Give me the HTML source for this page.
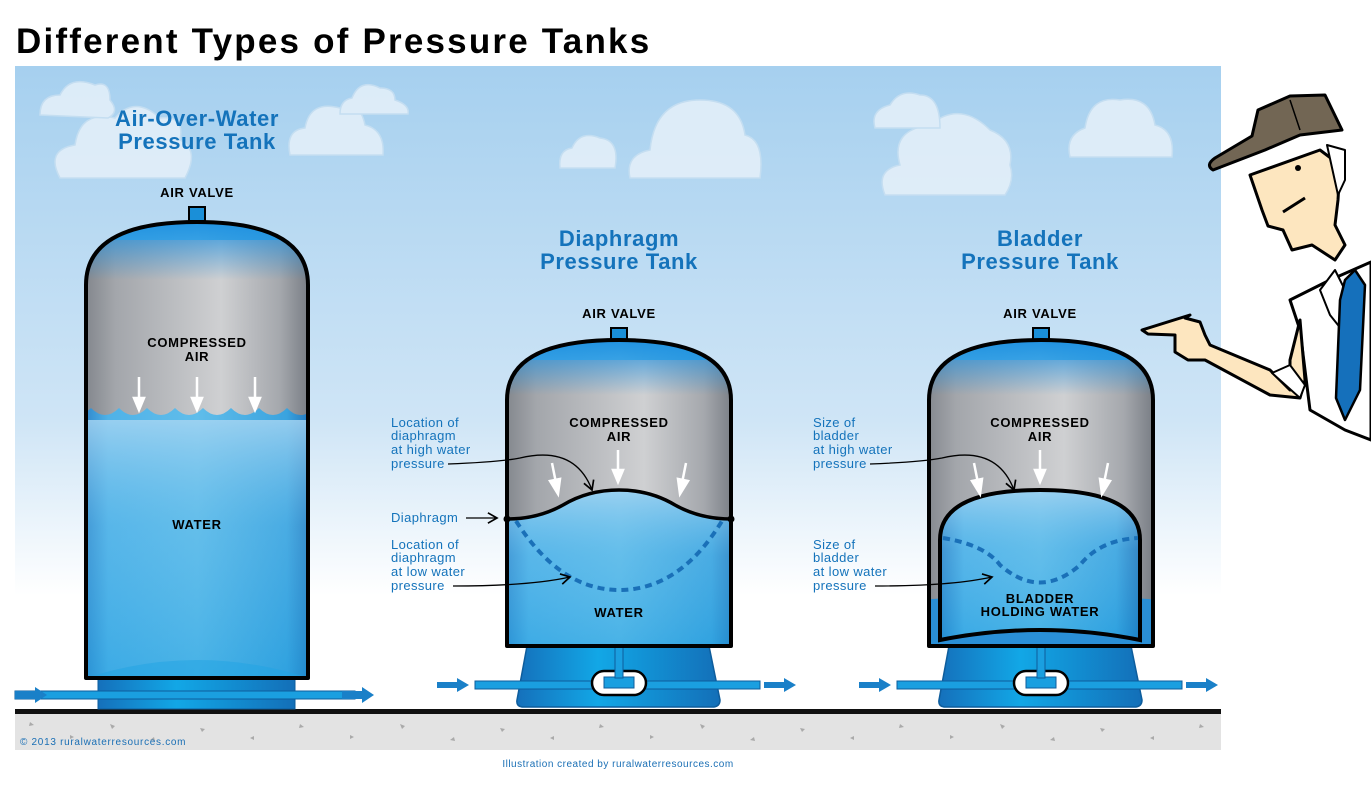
<!DOCTYPE html>
<html><head><meta charset="utf-8"><style>
html,body{margin:0;padding:0;background:#fff;width:1371px;height:794px;overflow:hidden}
svg{display:block}
text{font-family:"Liberation Sans",sans-serif}
.h{font-size:22px;font-weight:bold;fill:#1473bb;letter-spacing:0.6px}
.b{font-size:13px;font-weight:bold;letter-spacing:0.7px}
.l{font-size:13px;fill:#1473bb;letter-spacing:0.4px}
</style></head><body>
<svg width="1371" height="794" viewBox="0 0 1371 794" xmlns="http://www.w3.org/2000/svg">
<defs>
<linearGradient id="sky" x1="0" y1="0" x2="0" y2="1">
<stop offset="0" stop-color="#a6d0ef"/><stop offset="0.55" stop-color="#cfe5f6"/><stop offset="0.82" stop-color="#ffffff"/><stop offset="1" stop-color="#ffffff"/></linearGradient>
<linearGradient id="water" x1="0" y1="0" x2="1" y2="0">
<stop offset="0" stop-color="#2a7fc6"/><stop offset="0.12" stop-color="#4fb2e8"/><stop offset="0.5" stop-color="#60bdea"/><stop offset="0.88" stop-color="#3aa3df"/><stop offset="1" stop-color="#1d6db5"/></linearGradient>
<linearGradient id="waterv" x1="0" y1="0" x2="0" y2="1">
<stop offset="0" stop-color="#a9d6f2" stop-opacity="0.8"/><stop offset="0.4" stop-color="#6cc0ec" stop-opacity="0.3"/><stop offset="1" stop-color="#1a9ee0" stop-opacity="0.4"/></linearGradient>
<linearGradient id="air" x1="0" y1="0" x2="1" y2="0">
<stop offset="0" stop-color="#7d8187"/><stop offset="0.15" stop-color="#a3a6ab"/><stop offset="0.6" stop-color="#cfd0d2"/><stop offset="0.85" stop-color="#a5a8ad"/><stop offset="1" stop-color="#6f747c"/></linearGradient>
<linearGradient id="dome" x1="0" y1="0" x2="0" y2="1">
<stop offset="0" stop-color="#1b8ee0"/><stop offset="1" stop-color="#1b8ee0" stop-opacity="0"/></linearGradient>
<linearGradient id="base" x1="0" y1="0" x2="1" y2="0">
<stop offset="0" stop-color="#1570bb"/><stop offset="0.4" stop-color="#12a7e6"/><stop offset="1" stop-color="#136fb8"/></linearGradient>
<clipPath id="c1"><path d="M86,678 V285 Q86,222 197,222 Q308,222 308,285 V678 Z"/></clipPath>
<clipPath id="c2"><path d="M507,646 V400 Q507,340 619,340 Q731,340 731,400 V646 Z"/></clipPath>
<clipPath id="c3"><path d="M929,646 V400 Q929,340 1041,340 Q1153,340 1153,400 V646 Z"/></clipPath>
<marker id="ah" markerWidth="10" markerHeight="10" refX="8" refY="5" orient="auto"><path d="M1,1 L8,5 L1,9" fill="none" stroke="#000" stroke-width="1.3"/></marker>
</defs>

<text x="16" y="53" font-size="35" font-weight="bold" fill="#000" letter-spacing="2.2">Different Types of Pressure Tanks</text>
<rect x="15" y="66" width="1206" height="646" fill="url(#sky)"/>

<!-- clouds -->
<g fill="#e6f1fa" stroke="#c9e0f2" stroke-width="1.5" opacity="0.85">
<path d="M60,178 Q45,150 75,145 Q80,110 115,118 Q135,95 160,118 Q185,115 180,140 Q200,150 185,178 Z"/>
<path d="M40,115 Q40,95 60,95 Q70,75 95,85 Q110,80 110,100 Q120,112 108,118 Z"/>
<path d="M290,155 Q285,130 305,128 Q310,100 340,108 Q360,100 365,125 Q385,130 383,155 Z"/>
<path d="M340,114 Q340,100 352,98 Q360,78 380,88 Q395,88 395,100 Q410,105 408,114 Z"/>
<path d="M560,168 Q558,150 572,148 Q580,130 600,138 Q620,140 615,168 Z"/>
<path d="M630,178 Q625,155 650,150 Q655,100 700,100 Q740,100 745,135 Q765,140 760,178 Z"/>
<path d="M885,195 Q875,170 900,165 Q890,130 930,125 Q960,100 990,130 Q1015,140 1010,165 Q1015,180 1005,195 Z"/>
<path d="M875,128 Q870,110 890,105 Q900,88 920,95 Q940,95 940,128 Z"/>
<path d="M1070,157 Q1065,135 1085,128 Q1090,95 1120,100 Q1150,95 1155,125 Q1175,130 1172,157 Z"/>
</g>

<!-- ground -->
<rect x="15" y="713" width="1206" height="37" fill="#e3e3e3"/>
<g fill="#aaa">
<path d="M30,722l4,3l-5,1z M70,735l4,2l-4,2z M110,724l5,2l-3,3z M150,740l4,-3l1,4z M200,728l5,1l-3,3z M250,738l4,-2l0,4z M300,724l4,3l-5,1z M350,735l4,2l-4,2z M400,724l5,2l-3,3z M450,740l4,-3l1,4z M500,728l5,1l-3,3z M550,738l4,-2l0,4z M600,724l4,3l-5,1z M650,735l4,2l-4,2z M700,724l5,2l-3,3z M750,740l4,-3l1,4z M800,728l5,1l-3,3z M850,738l4,-2l0,4z M900,724l4,3l-5,1z M950,735l4,2l-4,2z M1000,724l5,2l-3,3z M1050,740l4,-3l1,4z M1100,728l5,1l-3,3z M1150,738l4,-2l0,4z M1200,724l4,3l-5,1z"/>
</g>
<rect x="15" y="709" width="1206" height="5" fill="#111"/>
<text x="20" y="745" font-size="10" fill="#1a6fb5" letter-spacing="0.7">© 2013 ruralwaterresources.com</text>
<text x="618" y="767" font-size="10" fill="#1a6fb5" text-anchor="middle" letter-spacing="0.5">Illustration created by ruralwaterresources.com</text>

<!-- TANK 1 -->
<text x="197" y="126" class="h" text-anchor="middle">Air-Over-Water</text>
<text x="197" y="149" class="h" text-anchor="middle">Pressure Tank</text>
<text x="197" y="197" class="b" text-anchor="middle">AIR VALVE</text>
<rect x="98" y="677" width="197" height="32" fill="url(#base)" stroke="#0e5d9c" stroke-width="1"/>
<rect x="15" y="691" width="340" height="8" fill="#1a9fe0" stroke="#0e5d9c" stroke-width="1"/>
<rect x="189" y="207" width="16" height="14" fill="#1a8fd8" stroke="#000" stroke-width="2"/>
<g clip-path="url(#c1)">
<rect x="80" y="215" width="235" height="470" fill="url(#water)"/>
<rect x="80" y="420" width="235" height="265" fill="url(#waterv)"/>
<path d="M80,240 H315 V408 Q300,422 287,408 Q273,422 259,408 Q245,422 231,408 Q217,422 203,408 Q189,422 175,408 Q161,422 147,408 Q133,422 119,408 Q105,422 91,408 Q84,415 80,410 Z" fill="url(#air)"/>
<rect x="80" y="215" width="235" height="65" fill="url(#dome)"/>
<path d="M80,680 Q197,640 315,680" fill="#1fa4e4" opacity="0.5"/>
</g>
<path d="M86,678 V285 Q86,222 197,222 Q308,222 308,285 V678 Z" fill="none" stroke="#000" stroke-width="4" stroke-linejoin="round"/>
<text x="197" y="347" class="b" text-anchor="middle">COMPRESSED</text>
<text x="197" y="361" class="b" text-anchor="middle">AIR</text>
<text x="197" y="529" class="b" text-anchor="middle">WATER</text>
<g stroke="#fff" stroke-width="2.5" fill="#fff">
<line x1="139" y1="377" x2="139" y2="400"/><path d="M134,398 L139,410 L144,398Z"/>
<line x1="197" y1="377" x2="197" y2="400"/><path d="M192,398 L197,410 L202,398Z"/>
<line x1="255" y1="377" x2="255" y2="400"/><path d="M250,398 L255,410 L260,398Z"/>
</g>
<g fill="#1a80c8"><path d="M15,691 h20 v-4 l12,8 l-12,8 v-4 h-20z"/><path d="M342,691 h20 v-4 l12,8 l-12,8 v-4 h-20z"/></g>

<!-- TANK 2 -->
<text x="619" y="246" class="h" text-anchor="middle">Diaphragm</text>
<text x="619" y="269" class="h" text-anchor="middle">Pressure Tank</text>
<text x="619" y="318" class="b" text-anchor="middle">AIR VALVE</text>
<path d="M527,646 H709 L720,700 Q720,706 714,707 H522 Q516,706 517,700 Z" fill="url(#base)" stroke="#0e5d9c" stroke-width="1.5"/>
<rect x="475" y="681" width="285" height="8" fill="#1a9fe0" stroke="#0e5d9c" stroke-width="1"/>
<rect x="592" y="671" width="54" height="24" rx="12" fill="#fff" stroke="#000" stroke-width="2.5"/>
<rect x="604" y="677" width="30" height="11" fill="#1a9fe0" stroke="#0e5d9c"/>
<rect x="615" y="646" width="8" height="32" fill="#1a9fe0" stroke="#0e5d9c"/>
<rect x="611" y="328" width="16" height="13" fill="#1a8fd8" stroke="#000" stroke-width="2"/>
<g clip-path="url(#c2)">
<rect x="500" y="335" width="240" height="320" fill="url(#water)"/>
<rect x="500" y="490" width="240" height="165" fill="url(#waterv)"/>
<path d="M500,360 H740 V519 Q700,519 675,505 Q650,490 619,490 Q588,490 563,505 Q538,519 500,519 Z" fill="url(#air)"/>
<rect x="500" y="335" width="240" height="60" fill="url(#dome)"/>
</g>
<path d="M507,646 V400 Q507,340 619,340 Q731,340 731,400 V646 Z" fill="none" stroke="#000" stroke-width="4" stroke-linejoin="round"/>
<path d="M507,519 Q538,519 563,505 Q588,490 619,490 Q650,490 675,505 Q700,519 731,519" fill="none" stroke="#000" stroke-width="3.5"/>
<circle cx="507" cy="519" r="3.5"/><circle cx="731" cy="519" r="3.5"/>
<path d="M516,521 Q560,590 619,590 Q680,590 722,521" fill="none" stroke="#1a70b8" stroke-width="4" stroke-dasharray="7,5"/>
<text x="619" y="427" class="b" text-anchor="middle">COMPRESSED</text>
<text x="619" y="441" class="b" text-anchor="middle">AIR</text>
<text x="619" y="617" class="b" text-anchor="middle">WATER</text>
<g stroke="#fff" stroke-width="2.5" fill="#fff">
<line x1="552" y1="463" x2="556" y2="483"/><path d="M550,481 L558,494 L560,479Z"/>
<line x1="618" y1="450" x2="618" y2="472"/><path d="M613,470 L618,482 L623,470Z"/>
<line x1="686" y1="463" x2="682" y2="483"/><path d="M678,479 L680,494 L688,481Z"/>
</g>
<g fill="#1a80c8"><path d="M437,682 h20 v-4 l12,7 l-12,7 v-4 h-20z"/><path d="M764,682 h20 v-4 l12,7 l-12,7 v-4 h-20z"/></g>
<text x="391" y="427" class="l">Location of</text><text x="391" y="440" class="l">diaphragm</text><text x="391" y="454" class="l">at high water</text><text x="391" y="468" class="l">pressure</text>
<text x="391" y="522" class="l">Diaphragm</text>
<text x="391" y="549" class="l">Location of</text><text x="391" y="562" class="l">diaphragm</text><text x="391" y="576" class="l">at low water</text><text x="391" y="590" class="l">pressure</text>
<path d="M448,464 Q500,462 520,458 Q575,445 592,490" fill="none" stroke="#000" stroke-width="1.3" marker-end="url(#ah)"/>
<path d="M466,518 H497" fill="none" stroke="#000" stroke-width="1.3" marker-end="url(#ah)"/>
<path d="M453,586 Q530,586 570,577" fill="none" stroke="#000" stroke-width="1.3" marker-end="url(#ah)"/>

<!-- TANK 3 -->
<text x="1040" y="246" class="h" text-anchor="middle">Bladder</text>
<text x="1040" y="269" class="h" text-anchor="middle">Pressure Tank</text>
<text x="1040" y="318" class="b" text-anchor="middle">AIR VALVE</text>
<path d="M949,646 H1131 L1142,700 Q1142,706 1136,707 H944 Q938,706 939,700 Z" fill="url(#base)" stroke="#0e5d9c" stroke-width="1.5"/>
<rect x="897" y="681" width="285" height="8" fill="#1a9fe0" stroke="#0e5d9c" stroke-width="1"/>
<rect x="1014" y="671" width="54" height="24" rx="12" fill="#fff" stroke="#000" stroke-width="2.5"/>
<rect x="1026" y="677" width="30" height="11" fill="#1a9fe0" stroke="#0e5d9c"/>
<rect x="1037" y="646" width="8" height="32" fill="#1a9fe0" stroke="#0e5d9c"/>
<rect x="1033" y="328" width="16" height="13" fill="#1a8fd8" stroke="#000" stroke-width="2"/>
<g clip-path="url(#c3)">
<rect x="920" y="335" width="240" height="320" fill="url(#water)"/>
<path d="M920,360 H1160 V655 H920 Z" fill="url(#air)"/>
<rect x="920" y="335" width="240" height="60" fill="url(#dome)"/>
<path d="M920,650 V600 Q1040,590 1160,600 V650 Z" fill="#2a8fd6"/>
</g>
<path d="M940,640 V540 Q940,490 1040,490 Q1140,490 1140,540 V640 Q1040,620 940,640 Z" fill="url(#water)"/>
<path d="M940,640 V540 Q940,490 1040,490 Q1140,490 1140,540 V640 Q1040,620 940,640 Z" fill="url(#waterv)" stroke="#000" stroke-width="4"/>
<path d="M929,646 V400 Q929,340 1041,340 Q1153,340 1153,400 V646 Z" fill="none" stroke="#000" stroke-width="4" stroke-linejoin="round"/>
<path d="M943,538 Q985,545 1000,565 Q1040,600 1080,565 Q1100,540 1138,538" fill="none" stroke="#1a70b8" stroke-width="4" stroke-dasharray="7,5"/>
<text x="1040" y="427" class="b" text-anchor="middle">COMPRESSED</text>
<text x="1040" y="441" class="b" text-anchor="middle">AIR</text>
<text x="1040" y="603" class="b" text-anchor="middle">BLADDER</text>
<text x="1040" y="616" class="b" text-anchor="middle">HOLDING WATER</text>
<g stroke="#fff" stroke-width="2.5" fill="#fff">
<line x1="974" y1="463" x2="978" y2="483"/><path d="M972,481 L980,494 L982,479Z"/>
<line x1="1040" y1="450" x2="1040" y2="472"/><path d="M1035,470 L1040,482 L1045,470Z"/>
<line x1="1108" y1="463" x2="1104" y2="483"/><path d="M1100,479 L1102,494 L1110,481Z"/>
</g>
<g fill="#1a80c8"><path d="M859,682 h20 v-4 l12,7 l-12,7 v-4 h-20z"/><path d="M1186,682 h20 v-4 l12,7 l-12,7 v-4 h-20z"/></g>
<text x="813" y="427" class="l">Size of</text><text x="813" y="440" class="l">bladder</text><text x="813" y="454" class="l">at high water</text><text x="813" y="468" class="l">pressure</text>
<text x="813" y="549" class="l">Size of</text><text x="813" y="562" class="l">bladder</text><text x="813" y="576" class="l">at low water</text><text x="813" y="590" class="l">pressure</text>
<path d="M870,464 Q922,462 942,458 Q997,445 1014,490" fill="none" stroke="#000" stroke-width="1.3" marker-end="url(#ah)"/>
<path d="M875,586 Q952,586 992,577" fill="none" stroke="#000" stroke-width="1.3" marker-end="url(#ah)"/>

<!-- Man -->
<g stroke="#000" stroke-width="3" stroke-linejoin="round">
<path d="M1300,330 L1290,300 L1330,280 L1371,262 L1371,440 L1345,430 L1310,410 Z" fill="#fff"/>
<path d="M1335,270 L1320,290 L1330,315 L1342,330 L1350,300 Z" fill="#fff" stroke-width="2"/>
<path d="M1345,280 L1355,270 L1365,285 L1360,390 L1345,420 L1336,398 L1340,300 Z" fill="#1570bb" stroke-width="2.5"/>
<path d="M1300,320 L1290,360 L1290,390 L1270,370 L1210,345 L1205,335 L1200,322 L1185,318 L1190,315 L1142,330 L1148,334 L1175,335 L1175,352 L1188,360 L1205,360 L1270,395 L1300,398 L1305,380 Z" fill="#fde6bf"/>
<path d="M1272,373 L1290,365 L1305,385 L1300,398 Z" fill="#fff" stroke-width="2"/>
<path d="M1250,175 L1262,210 L1268,226 L1283,230 L1292,250 L1312,245 L1335,260 L1345,245 L1335,225 L1338,200 L1340,165 L1320,150 Z" fill="#fde6bf"/>
<path d="M1327,145 L1345,150 L1345,180 L1338,195 Z" fill="#fff" stroke-width="2"/>
<path d="M1252,136 L1258,110 L1290,96 L1325,95 L1342,130 L1300,135 L1265,150 L1213,170 Q1205,165 1215,158 Z" fill="#726654"/>
</g>
<path d="M1290,100 L1300,130" stroke="#000" stroke-width="1.5"/>
<circle cx="1298" cy="168" r="3"/>
<path d="M1283,212 L1305,198" stroke="#000" stroke-width="3"/>
</svg>
</body></html>
